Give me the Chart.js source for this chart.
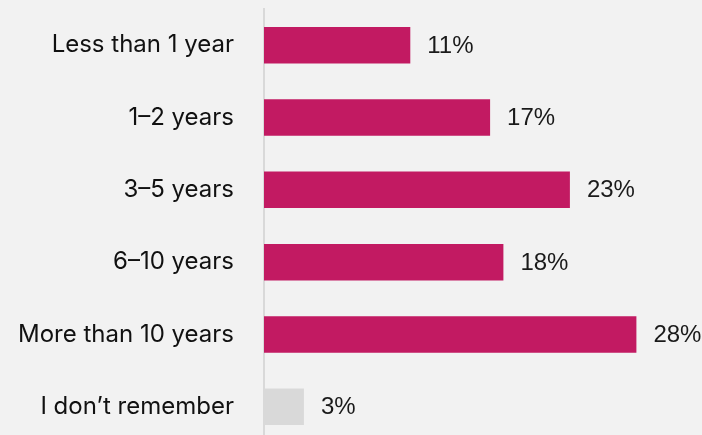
<!DOCTYPE html>
<html><head><meta charset="utf-8">
<script src="https://cdn.jsdelivr.net/npm/chart.js@4"></script>
<style>html,body{margin:0;padding:0;background:#f2f2f2;overflow:hidden;}#wrap{width:702px;height:435px;overflow:hidden;}canvas{display:block;}</style>
</head><body><div id="wrap"><canvas id="c" width="702" height="443"></canvas></div>
<script>
const categories = ["Less than 1 year","1\u20132 years","3\u20135 years","6\u201310 years","More than 10 years","I don\u2019t remember"];
const values = [11,17,23,18,28,3];
const valueLabels = ["11%","17%","23%","18%","28%","3%"];
const barColors = ["#C21A62","#C21A62","#C21A62","#C21A62","#C21A62","#D9D9D9"];

const valuePlugin = {
  id:'valueLabels',
  afterDatasetsDraw(chart){
    const ctx = chart.ctx;
    const meta = chart.getDatasetMeta(0);
    ctx.save();
    ctx.font = '24px "Liberation Sans", Arial, sans-serif';
    ctx.fillStyle = '#1a1a1a';
    ctx.textAlign = 'left';
    ctx.textBaseline = 'middle';
    meta.data.forEach((bar,i)=>{
      ctx.fillText(valueLabels[i], bar.x + 17, bar.y + 1);
    });
    ctx.restore();
  }
};

new Chart(document.getElementById('c'),{
  type:'bar',
  data:{labels:categories,datasets:[{data:values,backgroundColor:barColors,barPercentage:0.505,categoryPercentage:1}]},
  options:{
    indexAxis:'y',
    responsive:false,
    maintainAspectRatio:false,
    animation:false,
    layout:{padding:{top:9,bottom:0,right:39,left:0}},
    plugins:{legend:{display:false},tooltip:{enabled:false}},
    scales:{
      x:{min:0,max:30,display:false},
      y:{
        grid:{display:false,drawTicks:false},
        border:{display:true,color:'#D9D9D9',width:2},
        ticks:{padding:30,color:'#111111',font:{family:'Inter, "Open Sans", sans-serif',size:24}},
        afterFit(s){s.width=264;s.paddingTop=0;s.paddingBottom=0;}
      }
    }
  },
  plugins:[valuePlugin]
});
</script></body></html>
